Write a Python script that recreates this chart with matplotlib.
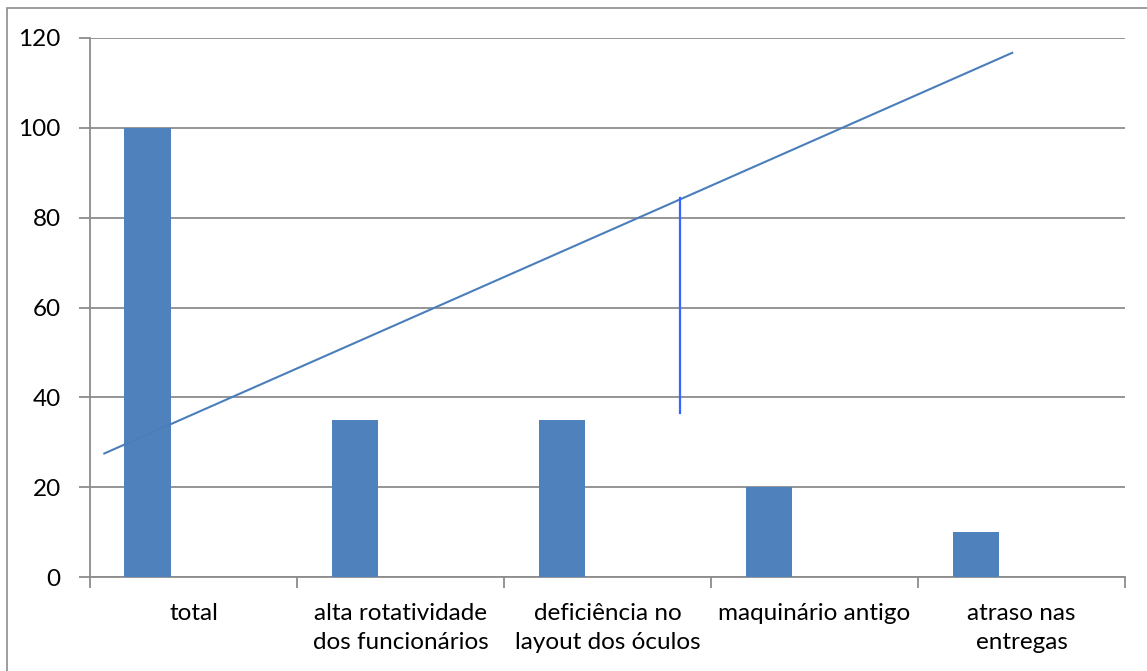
import matplotlib.pyplot as plt
from matplotlib.patches import Rectangle

plt.rcParams['font.family'] = ['Lato', 'DejaVu Sans']

categorias = ["total", "alta rotatividade\ndos funcionários", "deficiência no\nlayout dos óculos",
              "maquinário antigo", "atraso nas\nentregas"]
valores = [100, 35, 35, 20, 10]

# linha de tendência desenhada à mão (x em unidades de categoria)
linha_x = [-0.431, 3.955]
linha_y = [27.5, 116.7]
# marcador vertical
marca_x = [2.35, 2.35]
marca_y = [36.6, 84.3]

W, H = 1147, 671
fig = plt.figure(figsize=(W / 100, H / 100), dpi=100)
ax = fig.add_axes([90 / W, (H - 577) / H, (1125 - 90) / W, (577 - 38) / H])

# borda externa do gráfico
fig.patches.append(Rectangle((7 / W, -0.1), 1.2, (H - 8) / H + 0.1, transform=fig.transFigure,
                             fill=False, edgecolor='#8c8c8c', linewidth=1.2))

largura = 1 / 4.5
pos = [i - 0.5 + 0.75 / 4.5 + largura / 2 for i in range(len(valores))]
ax.bar(pos, valores, width=largura, color='#4f81bd', zorder=3)

ax.plot(linha_x, linha_y, color='#4a7ebb', linewidth=1.5, zorder=4)
ax.plot(marca_x, marca_y, color='#3366ff', linewidth=1.6, zorder=4)

ax.set_xlim(-0.5, len(valores) - 0.5)
ax.set_ylim(0, 120)
ax.set_yticks(range(0, 121, 20))
ax.yaxis.grid(True, color='#8c8c8c', linewidth=1.3, zorder=0)
ax.set_xticks([i - 0.5 for i in range(len(valores) + 1)])
ax.set_xticklabels([])
ax.set_xticks(range(len(valores)), minor=True)
ax.set_xticklabels(categorias, minor=True, fontsize=17.5, linespacing=1.45, va='top')
ax.tick_params(axis='x', which='minor', length=0, pad=19)
ax.tick_params(axis='x', which='major', length=8, color='#8c8c8c', width=1.3)
ax.tick_params(axis='y', length=8, color='#8c8c8c', width=1.3, labelsize=17.5, pad=13)

for lado in ['top', 'right']:
    ax.spines[lado].set_visible(False)
for lado in ['left', 'bottom']:
    ax.spines[lado].set_color('#8c8c8c')
    ax.spines[lado].set_linewidth(1.3)

fig.savefig('out.png', dpi=100)
